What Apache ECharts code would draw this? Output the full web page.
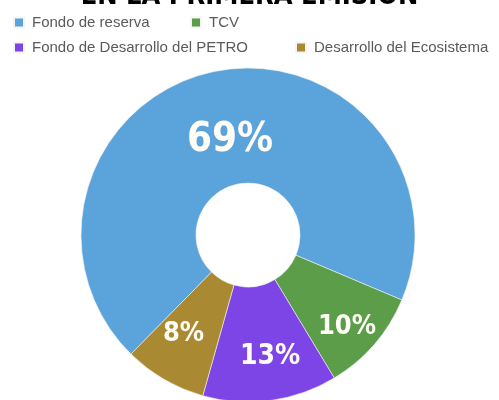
<!DOCTYPE html>
<html>
<head>
<meta charset="utf-8">
<script src="https://cdn.jsdelivr.net/npm/echarts@6/dist/echarts.min.js"></script>
<style>html,body{margin:0;padding:0;background:#fff;}#c{width:499px;height:400px;}</style>
</head>
<body>
<div id="c"></div>
<script>
var titleText = "EN LA PRIMERA EMISIÓN";
var categories = ["Fondo de reserva", "TCV", "Fondo de Desarrollo del PETRO", "Desarrollo del Ecosistema"];
var values = [69, 10, 13, 8];

// styling (kept apart from the data)
var colors = ["#5ba4db", "#5b9d49", "#7e45e6", "#a98a32"];
var labelSizes = [40, 27, 28, 27];
var labelOffsets = [[4, 16], [14, 18], [7, 10], [-8, 2]];
var legendLeft = [13, 190, 13, 295];
var legendTop = [15, 15, 40, 40];

var chart = echarts.init(document.getElementById('c'), null, {renderer: 'canvas'});
var narrow = "'Liberation Sans Narrow', 'DejaVu Sans Condensed', sans-serif";
var legends = categories.map(function (name, i) {
  return {
    data: [name],
    left: legendLeft[i],
    top: legendTop[i],
    padding: 0,
    itemWidth: 10,
    itemHeight: 10,
    icon: 'rect',
    textStyle: {color: '#5a5a5a', fontSize: 15, fontFamily: 'Liberation Sans, Arial, sans-serif', padding: [0, 0, 0, 3]},
    selectedMode: false
  };
});
chart.setOption({
  animation: false,
  title: {
    text: titleText,
    left: 'center',
    top: -17,
    padding: 0,
    textStyle: {color: '#000', fontSize: 27, fontWeight: 900, fontFamily: narrow}
  },
  legend: legends,
  series: [{
    type: 'pie',
    center: [248, 235],
    radius: [52, 167],
    startAngle: 225.5,
    clockwise: true,
    itemStyle: {borderColor: '#f4f4f4', borderWidth: 0.6},
    label: {
      show: true,
      position: 'inside',
      formatter: '{c}%',
      color: '#fffdf5',
      fontWeight: 'bold',
      fontFamily: narrow
    },
    labelLine: {show: false},
    emphasis: {disabled: true},
    data: values.map(function (v, i) {
      return {
        value: v,
        name: categories[i],
        itemStyle: {color: colors[i]},
        label: {fontSize: labelSizes[i], offset: labelOffsets[i]}
      };
    })
  }]
});
</script>
</body>
</html>
